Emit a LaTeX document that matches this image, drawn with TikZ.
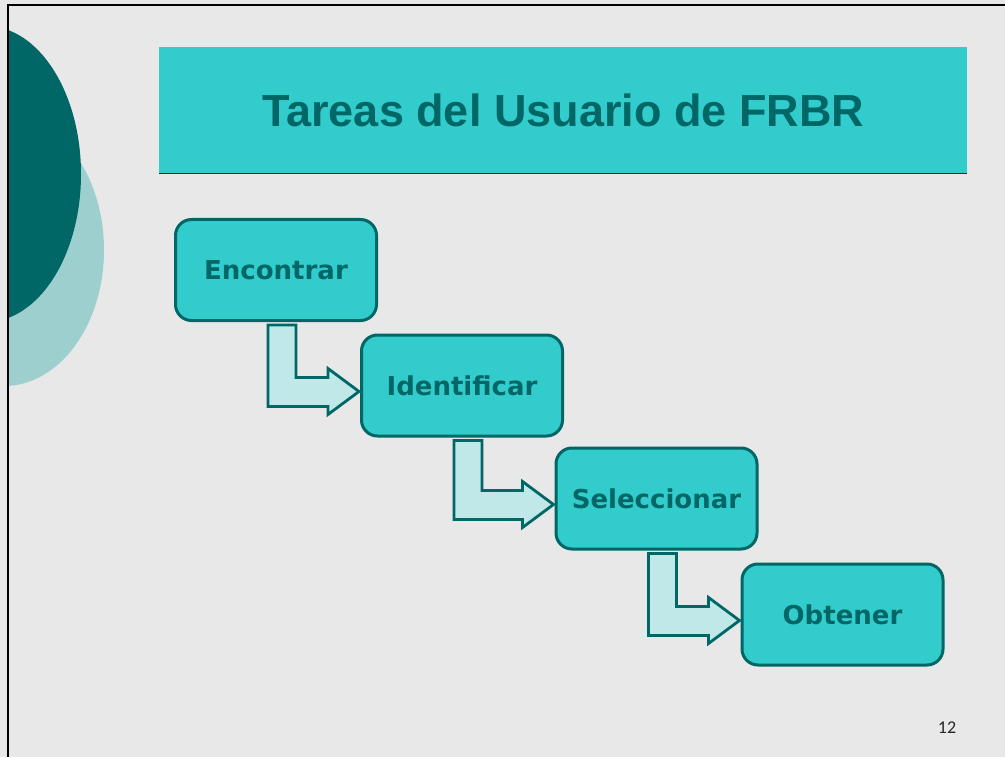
\documentclass[tikz,border=0pt]{standalone}
\usepackage{fontspec}
\usetikzlibrary{calc}
\newfontfamily\boxfont{DejaVu Sans}
\newfontfamily\titlefont{Liberation Sans}
\newfontfamily\numfont{Carlito}
\definecolor{bg}{HTML}{E8E8E8}
\definecolor{teal}{HTML}{33CCCC}
\definecolor{darkteal}{HTML}{006666}
\definecolor{paleteal}{HTML}{C0E8E8}
\definecolor{midteal}{HTML}{9ECFCF}
\tikzset{
  taskbox/.style={draw=darkteal, line width=3pt, fill=teal, rounded corners=16pt,
    minimum width=201pt, minimum height=101pt, inner sep=0pt,
    text=darkteal, font=\boxfont\bfseries\fontsize{26}{30}\selectfont},
  bent/.style={draw=darkteal, line width=2.8pt, fill=paleteal, line join=miter},
}
\begin{document}
\begin{tikzpicture}[x=1pt, y=-1pt]
  \fill[bg] (0,0) rectangle (1005,757);
  \useasboundingbox (0,0) rectangle (1005,757);
  % decorative ellipses
  \begin{scope}
    \clip (8,5) rectangle (1005,757);
    \fill[midteal] (4,250) ellipse [x radius=100, y radius=136];
    \fill[darkteal] (-14,174) ellipse [x radius=95, y radius=148];
  \end{scope}
  % frame
  \draw[black, line width=2pt] (8,757) -- (8,5) -- (1005,5);
  % title bar
  \node (bar) [fill=teal, minimum width=808pt, minimum height=126pt, inner sep=0pt,
    anchor=north west, text=darkteal, font=\titlefont\bfseries\fontsize{45}{50}\selectfont]
    at (159,47) {Tareas del Usuario de FRBR};
  \draw[black!85, line width=1.5pt] (bar.south west) -- (bar.south east);
  % task boxes
  \node (enc) [taskbox] at (276,270) {Encontrar};
  \node (ide) [taskbox] at (462,385.5) {Identificar};
  \node (sel) [taskbox] at (656.5,498.5) {Seleccionar};
  \node (obt) [taskbox] at (842.5,614.5) {Obtener};
  % bent arrows
  \foreach \a/\b in {enc/ide, ide/sel, sel/obt}{
    \draw[bent] let \p1=($(\a.south)+(6,3)$), \p2=($(\b.west)+(-1,6)$) in
      (\x1-14pt,\y1) -- (\x1+14pt,\y1) -- (\x1+14pt,\y2+14pt) -- (\x2-31pt,\y2+14pt)
      -- (\x2-31pt,\y2+23pt) -- (\x2,\y2) -- (\x2-31pt,\y2-23pt) -- (\x2-31pt,\y2-15pt)
      -- (\x1-14pt,\y2-15pt) -- cycle;
  }
  % page number
  \node (num) [anchor=base, font=\numfont\fontsize{18}{20}\selectfont, text=black!85] at (947,733) {12};
\end{tikzpicture}
\end{document}
